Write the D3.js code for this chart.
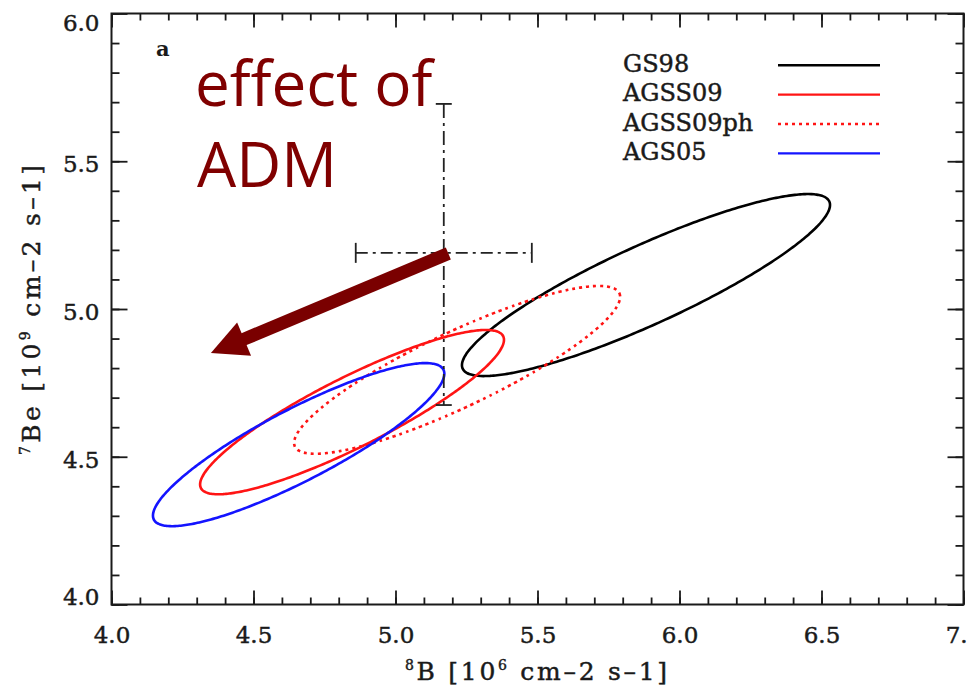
<!DOCTYPE html>
<html>
<head>
<meta charset="utf-8">
<script src="https://cdn.jsdelivr.net/npm/d3@7/dist/d3.min.js"></script>
<style>
  html, body { margin: 0; padding: 0; background: #fff; }
  svg { display: block; }
</style>
</head>
<body>
<svg id="chart" width="968" height="686"></svg>
<script>
// Solar composition models: 1-sigma contours in the (8B, 7Be) flux plane
const models = ["GS98", "AGSS09", "AGSS09ph", "AGS05"];
const centerB8 = [5.882, 4.847, 5.217, 4.659];
const centerBe7 = [5.081, 4.651, 4.794, 4.541];
const spreadB8 = [0.648, 0.535, 0.574, 0.513];
const spreadBe7 = [0.308, 0.278, 0.284, 0.276];
const correlation = [0.88, 0.88, 0.87, 0.87];

// Measured fluxes with their ranges
const measuredB8 = 5.17;
const measuredB8Range = [4.86, 5.48];
const measuredBe7 = 5.19;
const measuredBe7Range = [4.675, 5.694];

// Arrow annotation (from / to, in flux units)
const arrowFrom = [5.186, 5.188];
const arrowTo = [4.35, 4.851];

// Axis ticks
const xMajorTicks = [4.0, 4.5, 5.0, 5.5, 6.0, 6.5, 7.0];
const yMajorTicks = [4.0, 4.5, 5.0, 5.5, 6.0];
const xMinorTicks = d3.range(40, 71).map(v => v / 10);
const yMinorTicks = d3.range(40, 61).map(v => v / 10);

// Styles per model
const modelColor = ["#000000", "#ff1414", "#ff1414", "#1414ff"];
const modelDash = [null, null, "3,4", null];

const svg = d3.select("#chart");
const plotLeft = 111.5, plotRight = 963.5, plotTop = 13.5, plotBottom = 604.5;

const x = d3.scaleLinear().domain([4, 7]).range([plotLeft, plotRight]);
const y = d3.scaleLinear().domain([4, 6]).range([plotBottom, plotTop]);

const serif = "'DejaVu Serif', 'Liberation Serif', serif";
const ink = "#1a1a1a";

// slightly heavier serif text
function serifText(sel, size) {
  return sel.attr("font-family", serif).attr("font-size", size)
    .attr("fill", ink).attr("stroke", ink).attr("stroke-width", 0.45);
}

// ---- contours ----
const angles = d3.range(0, 360, 2).map(a => a * Math.PI / 180);
const contour = d3.line().curve(d3.curveCardinalClosed.tension(0.5));

const g = svg.append("g");
models.forEach((m, i) => {
  const s = Math.sqrt(1 - correlation[i] * correlation[i]);
  const pts = angles.map(t => [
    x(centerB8[i] + spreadB8[i] * Math.cos(t)),
    y(centerBe7[i] + spreadBe7[i] * (correlation[i] * Math.cos(t) + s * Math.sin(t)))
  ]);
  g.append("path")
    .attr("d", contour(pts))
    .attr("fill", "none")
    .attr("stroke", modelColor[i])
    .attr("stroke-width", 2.6)
    .attr("stroke-dasharray", modelDash[i]);
});

// ---- measurement cross ----
const cross = svg.append("g").attr("stroke", "#222").attr("stroke-width", 1.8);
cross.append("line")
  .attr("x1", x(measuredB8Range[0])).attr("x2", x(measuredB8Range[1]))
  .attr("y1", y(measuredBe7)).attr("y2", y(measuredBe7))
  .attr("stroke-dasharray", "12,5,3,5");
cross.append("line")
  .attr("x1", x(measuredB8)).attr("x2", x(measuredB8))
  .attr("y1", y(measuredBe7Range[1])).attr("y2", y(measuredBe7Range[0]))
  .attr("stroke-dasharray", "14,5,3,5");
measuredB8Range.forEach(v => {
  cross.append("line")
    .attr("x1", x(v)).attr("x2", x(v))
    .attr("y1", y(measuredBe7) - 10).attr("y2", y(measuredBe7) + 10);
});
measuredBe7Range.forEach(v => {
  cross.append("line")
    .attr("x1", x(measuredB8) - 8).attr("x2", x(measuredB8) + 8)
    .attr("y1", y(v)).attr("y2", y(v));
});

// ---- axes: frame with inward ticks on all four sides ----
const axes = svg.append("g").attr("color", ink);
function tickAxis(axisFn, scale, values, size, withLabels) {
  return axisFn(scale).tickValues(values).tickSize(-size).tickSizeOuter(0)
    .tickFormat(withLabels ? d3.format(".1f") : "");
}
axes.append("g").attr("transform", `translate(0,${plotBottom})`)
  .call(tickAxis(d3.axisBottom, x, xMajorTicks, 14, true).tickPadding(22));
axes.append("g").attr("transform", `translate(0,${plotBottom})`)
  .call(tickAxis(d3.axisBottom, x, xMinorTicks, 7, false));
axes.append("g").attr("transform", `translate(0,${plotTop})`)
  .call(tickAxis(d3.axisTop, x, xMajorTicks, 14, false));
axes.append("g").attr("transform", `translate(0,${plotTop})`)
  .call(tickAxis(d3.axisTop, x, xMinorTicks, 7, false));
const leftMajor = axes.append("g").attr("transform", `translate(${plotLeft},0)`)
  .call(tickAxis(d3.axisLeft, y, yMajorTicks, 16, true).tickPadding(12));
axes.append("g").attr("transform", `translate(${plotLeft},0)`)
  .call(tickAxis(d3.axisLeft, y, yMinorTicks, 8, false));
axes.append("g").attr("transform", `translate(${plotRight},0)`)
  .call(tickAxis(d3.axisRight, y, yMajorTicks, 16, false));
axes.append("g").attr("transform", `translate(${plotRight},0)`)
  .call(tickAxis(d3.axisRight, y, yMinorTicks, 8, false));

axes.selectAll(".domain").remove();
axes.selectAll(".tick line").attr("stroke-width", 1.8);
serifText(axes.selectAll("text"), 23);
// end labels on the value axis are kept inside the frame height
leftMajor.selectAll("text")
  .attr("dy", d => d === 6 ? "0.72em" : d === 4 ? "0em" : "0.45em");

svg.append("rect")
  .attr("x", plotLeft).attr("y", plotTop)
  .attr("width", plotRight - plotLeft).attr("height", plotBottom - plotTop)
  .attr("fill", "none").attr("stroke", ink).attr("stroke-width", 2);

// ---- axis titles ----
const xt = serifText(svg.append("text"), 25)
  .attr("x", 536).attr("y", 680)
  .attr("text-anchor", "middle")
  .attr("textLength", 262).attr("lengthAdjust", "spacing");
xt.append("tspan").attr("font-size", 14).attr("dy", -10).text("8");
xt.append("tspan").attr("dy", 10).text("B [10");
xt.append("tspan").attr("font-size", 14).attr("dy", -10).text("6");
xt.append("tspan").attr("dy", 10).text(" cm\u20132 s\u20131]");

const yt = serifText(svg.append("text"), 25)
  .attr("transform", "translate(40,310) rotate(-90)")
  .attr("text-anchor", "middle")
  .attr("textLength", 290).attr("lengthAdjust", "spacing");
yt.append("tspan").attr("font-size", 14).attr("dy", -10).text("7");
yt.append("tspan").attr("dy", 10).text("Be [10");
yt.append("tspan").attr("font-size", 14).attr("dy", -10).text("9");
yt.append("tspan").attr("dy", 10).text(" cm\u20132 s\u20131]");

// panel letter
svg.append("text").attr("x", 156).attr("y", 56)
  .attr("font-family", serif).attr("font-size", 21).attr("font-weight", "bold")
  .attr("fill", ink).text("a");

// ---- legend ----
const legend = svg.append("g");
models.forEach((m, i) => {
  const base = 71.7 + i * 29.4;
  serifText(legend.append("text"), 24).attr("x", 623).attr("y", base).text(m);
  legend.append("line")
    .attr("x1", 778).attr("x2", 880)
    .attr("y1", base - 6.5).attr("y2", base - 6.5)
    .attr("stroke", modelColor[i]).attr("stroke-width", 2.4)
    .attr("stroke-dasharray", modelDash[i]);
});

// ---- annotation ----
const annot = "#7a0000";
const sans = "'Open Sans', 'Noto Sans', sans-serif";
svg.append("text").attr("x", 195).attr("y", 106)
  .attr("font-family", sans).attr("font-size", 62)
  .attr("fill", "#800000").text("effect of");
svg.append("text").attr("x", 197).attr("y", 187)
  .attr("font-family", sans).attr("font-size", 62)
  .attr("fill", "#800000").text("ADM");

const p0 = [x(arrowFrom[0]), y(arrowFrom[1])];
const p1 = [x(arrowTo[0]), y(arrowTo[1])];
const adx = p1[0] - p0[0], ady = p1[1] - p0[1];
const alen = Math.hypot(adx, ady);
const ux = adx / alen, uy = ady / alen;
const headLen = 36, headHalf = 18;
const baseMid = [p1[0] - ux * headLen, p1[1] - uy * headLen];
svg.append("line")
  .attr("x1", p0[0]).attr("y1", p0[1])
  .attr("x2", baseMid[0] + ux * 2).attr("y2", baseMid[1] + uy * 2)
  .attr("stroke", annot).attr("stroke-width", 13);
svg.append("path")
  .attr("d", d3.line()([
    p1,
    [baseMid[0] - uy * headHalf, baseMid[1] + ux * headHalf],
    [baseMid[0] + uy * headHalf, baseMid[1] - ux * headHalf]
  ]) + "Z")
  .attr("fill", annot);
</script>
</body>
</html>
